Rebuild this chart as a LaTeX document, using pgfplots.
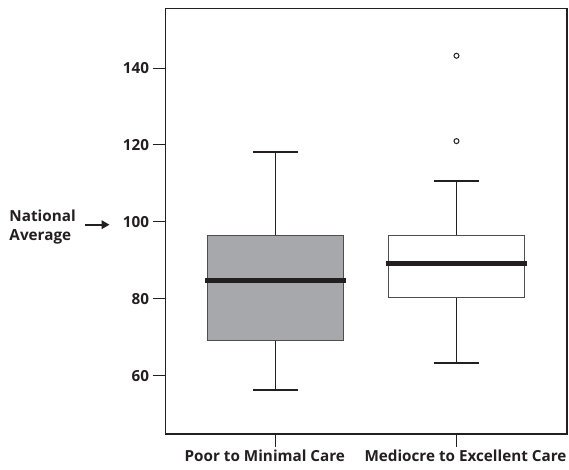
\documentclass[border=0pt]{standalone}
\usepackage{fontspec}
\setmainfont{Open Sans}
\usepackage{pgfplots}
\usetikzlibrary{arrows.meta}
\pgfplotsset{compat=1.18}
\definecolor{boxgray}{HTML}{A7A8AB}
\definecolor{ink}{HTML}{231F20}
\newcommand{\lblfont}{\bfseries\fontsize{15.3}{18}\selectfont}
\begin{document}
\begin{tikzpicture}
\useasboundingbox (0,0) rectangle (569bp,470bp);
\begin{axis}[
  name=ax,
  at={(165.3bp,36bp)}, anchor=south west,
  scale only axis, width=401.5bp, height=425.5bp,
  xmin=0.39, xmax=2.61, ymin=44.8, ymax=155.5,
  xtick={1,2},
  xticklabels={Poor to Minimal Care\hspace*{21.6bp}, \hspace*{18bp}Mediocre to Excellent Care},
  ytick={60,80,100,120,140},
  tick align=outside, major tick length=12.7bp,
  tick pos=left,
  tick style={draw=ink, line width=1bp},
  axis line style={draw=ink, line width=1.4bp},
  ticklabel style={font=\lblfont, text=ink},
  /pgf/number format/assume math mode=true,
  clip=false,
]
% Poor to Minimal Care: box Q1=69.1, Q3=96.5, median 84.7, whiskers 56.2 / 118.1
\addplot[fill=boxgray, draw=ink!80, line width=1bp] coordinates {(0.625,69.1) (1.375,69.1) (1.375,96.5) (0.625,96.5)} -- cycle;
\addplot[draw=ink, line width=1.7bp] coordinates {(1,96.5) (1,118.1)};
\addplot[draw=ink, line width=1.7bp] coordinates {(0.875,118.1) (1.125,118.1)};
\addplot[draw=ink, line width=1.7bp] coordinates {(1,69.1) (1,56.2)};
\addplot[draw=ink, line width=1.7bp] coordinates {(0.875,56.2) (1.125,56.2)};
\addplot[draw=ink, line width=4.8bp, line cap=rect] coordinates {(0.625,84.7) (1.375,84.7)};
% Mediocre to Excellent Care: box Q1=80.2, Q3=96.5, median 89.1, whiskers 63.2 / 110.6
\addplot[fill=white, draw=ink!80, line width=1bp] coordinates {(1.625,80.2) (2.375,80.2) (2.375,96.5) (1.625,96.5)} -- cycle;
\addplot[draw=ink, line width=1.7bp] coordinates {(2,96.5) (2,110.6)};
\addplot[draw=ink, line width=1.7bp] coordinates {(1.875,110.6) (2.125,110.6)};
\addplot[draw=ink, line width=1.7bp] coordinates {(2,80.2) (2,63.2)};
\addplot[draw=ink, line width=1.7bp] coordinates {(1.875,63.2) (2.125,63.2)};
\addplot[draw=ink, line width=4.8bp, line cap=rect] coordinates {(1.625,89.1) (2.375,89.1)};
\addplot[only marks, mark=o, mark size=2.5bp, mark options={draw=ink, line width=1bp}] coordinates {(2,121.0) (2,143.2)};
\end{axis}
\draw[draw=ink, line width=1.4bp] (ax.south west) rectangle (ax.north east);
\node[anchor=base west, inner sep=0, text=ink, font=\lblfont] at (9.3bp,248.3bp) {National};
\node[anchor=base west, inner sep=0, text=ink, font=\lblfont] at (9.3bp,229.3bp) {Average};
\draw[draw=ink, line width=2.2bp, -{Triangle[length=8bp,width=8.5bp]}] (85bp,245.3bp) -- (109.5bp,245.3bp);
\end{tikzpicture}
\end{document}
